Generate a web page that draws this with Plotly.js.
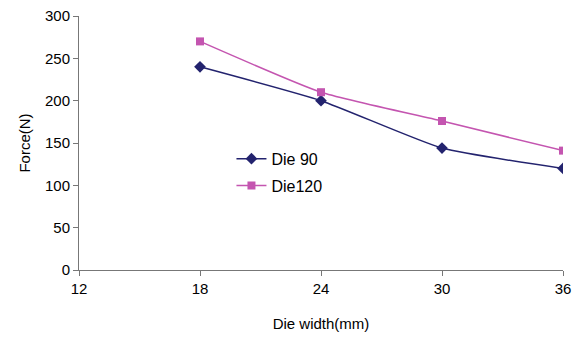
<!DOCTYPE html>
<html><head><meta charset="utf-8">
<script src="https://cdn.plot.ly/plotly-3.0.1.min.js"></script>
<style>html,body{margin:0;padding:0;background:#fff}</style>
</head><body>
<div id="chart" style="width:582px;height:337px"></div>
<script>
const dieWidth = [18, 24, 30, 36];
const die90 = [240, 200, 144, 120];
const die120 = [270, 210, 176, 141];
const xTicks = [12, 18, 24, 30, 36];
const yTicks = [0, 50, 100, 150, 200, 250, 300];

const font = {family: 'Liberation Sans, Arial, sans-serif', size: 15, color: '#000'};
const traces = [
  {x: dieWidth, y: die90, name: 'Die 90', mode: 'lines+markers', legendgroup: 'a',
   line: {color: '#23236e', width: 1.5, shape: 'spline', smoothing: 0.5},
   marker: {symbol: 'diamond', size: 9, color: '#23236e'}},
  {x: dieWidth, y: die120, name: 'Die120', mode: 'lines+markers', legendgroup: 'b',
   line: {color: '#c455b0', width: 1.5, shape: 'spline', smoothing: 0.5},
   marker: {symbol: 'square', size: 8, color: '#c455b0'}}
];
const layout = {
  width: 582, height: 337,
  margin: {l: 79, r: 19, t: 16, b: 67},
  paper_bgcolor: '#fff', plot_bgcolor: '#fff',
  font: font,
  showlegend: true,
  legend: {x: 0.315, y: 0.505, xanchor: 'left', yanchor: 'top', bgcolor: 'rgba(0,0,0,0)',
           font: {family: font.family, size: 16, color: '#000'}, tracegroupgap: 3},
  xaxis: {range: [12, 36], tickvals: xTicks, ticktext: xTicks.map(String),
          showgrid: false, zeroline: false, showline: true, linecolor: '#777', linewidth: 1,
          ticks: 'outside', ticklen: 5, tickcolor: '#777',
          title: {text: 'Die width(mm)', font: font, standoff: 22}},
  yaxis: {range: [0, 300], tickvals: yTicks, showgrid: false, zeroline: false,
          showline: true, linecolor: '#777', linewidth: 1,
          ticks: 'outside', ticklen: 5, tickcolor: '#777',
          title: {text: 'Force(N)', font: font, standoff: 10}}
};
Plotly.newPlot('chart', traces, layout, {displayModeBar: false, staticPlot: true});
</script>
</body></html>
